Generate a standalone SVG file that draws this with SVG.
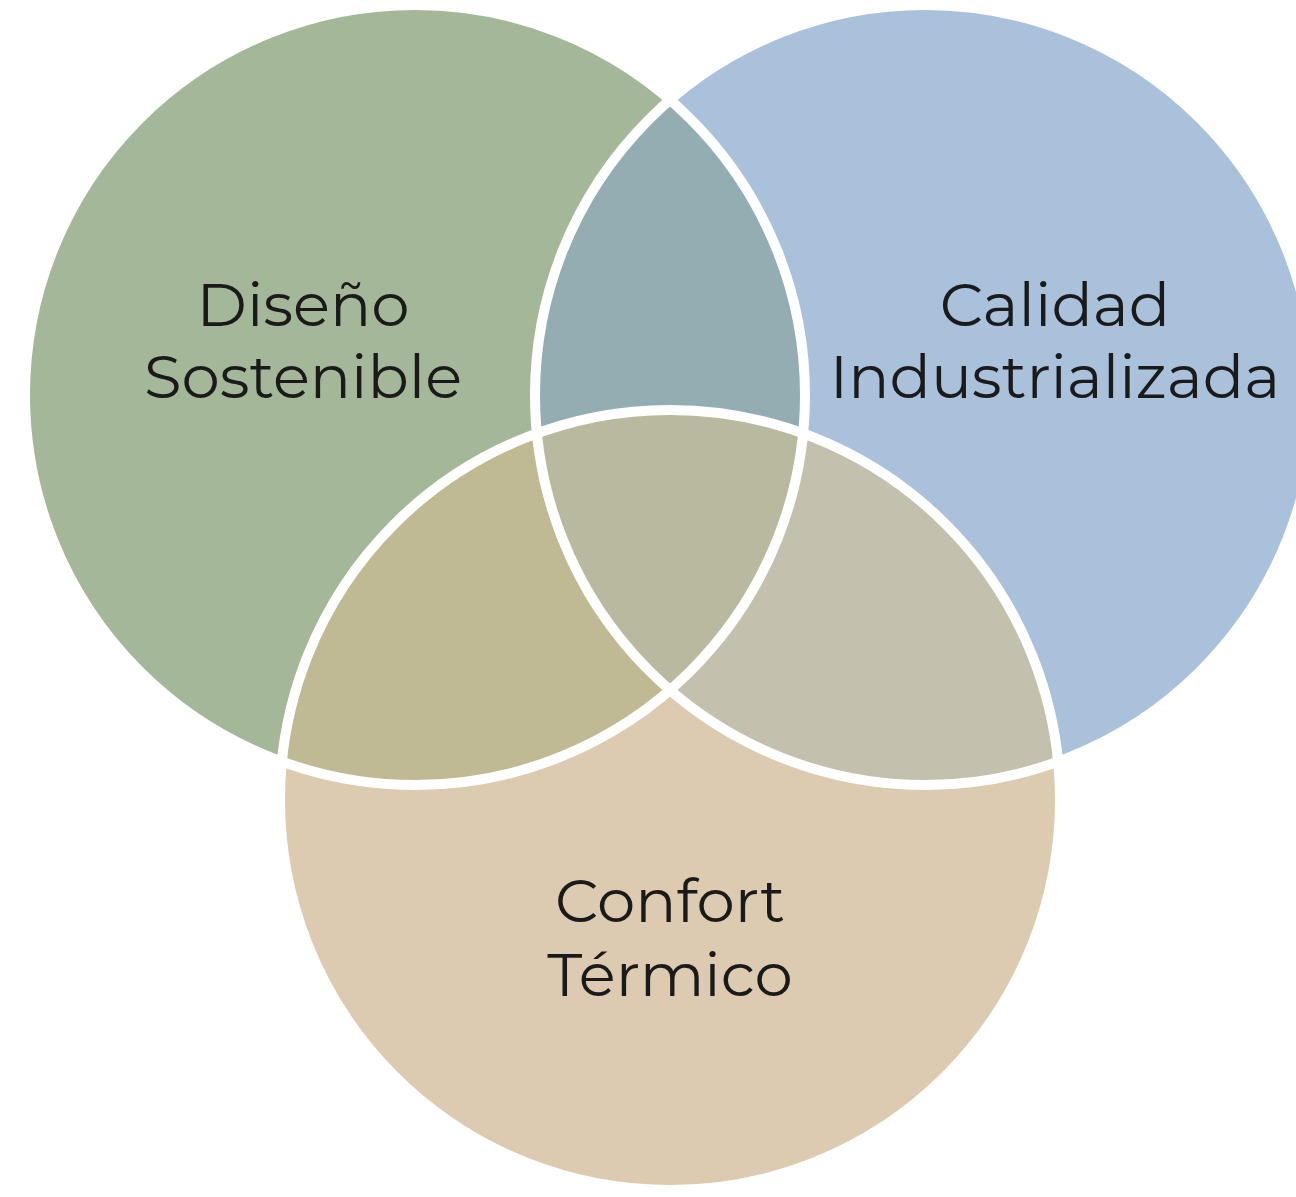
<svg xmlns="http://www.w3.org/2000/svg" width="1296" height="1197" viewBox="0 0 1296 1197">
<style>
.lbl{font-family:"Montserrat","Open Sans","Noto Sans",sans-serif;font-size:61px;fill:#1a1a1a;text-anchor:middle}
.ring{fill:none;stroke:#ffffff;stroke-width:10}
</style>
<defs>
<clipPath id="cA"><circle cx="415" cy="395" r="390"/></clipPath>
<clipPath id="cB"><circle cx="925" cy="395" r="390"/></clipPath>
<clipPath id="cC"><circle cx="670" cy="800" r="390"/></clipPath>
</defs>
<rect width="1296" height="1197" fill="#ffffff"/>
<g id="sostenible"><circle cx="415" cy="395" r="390" fill="#a4b899"/></g>
<g id="industrializada"><circle cx="925" cy="395" r="390" fill="#a9c1da"/></g>
<g id="confort"><circle cx="670" cy="800" r="390" fill="#dccbb0"/></g>
<g id="overlaps">
<g clip-path="url(#cA)"><circle cx="925" cy="395" r="390" fill="#94adb3"/></g>
<g clip-path="url(#cA)"><circle cx="670" cy="800" r="390" fill="#bfb994"/></g>
<g clip-path="url(#cB)"><circle cx="670" cy="800" r="390" fill="#c3c0ad"/></g>
<g clip-path="url(#cA)"><g clip-path="url(#cB)"><circle cx="670" cy="800" r="390" fill="#b8b99f"/></g></g>
</g>
<g id="rings">
<circle class="ring" cx="415" cy="395" r="390"/>
<circle class="ring" cx="925" cy="395" r="390"/>
<circle class="ring" cx="670" cy="800" r="390"/>
</g>
<g id="labels">
<text class="lbl" x="303" y="326">Diseño</text>
<text class="lbl" x="303" y="398">Sostenible</text>
<text class="lbl" x="1055" y="326">Calidad</text>
<text class="lbl" x="1055" y="398">Industrializada</text>
<text class="lbl" x="670" y="922">Confort</text>
<text class="lbl" x="670" y="996">Térmico</text>
</g>
</svg>
